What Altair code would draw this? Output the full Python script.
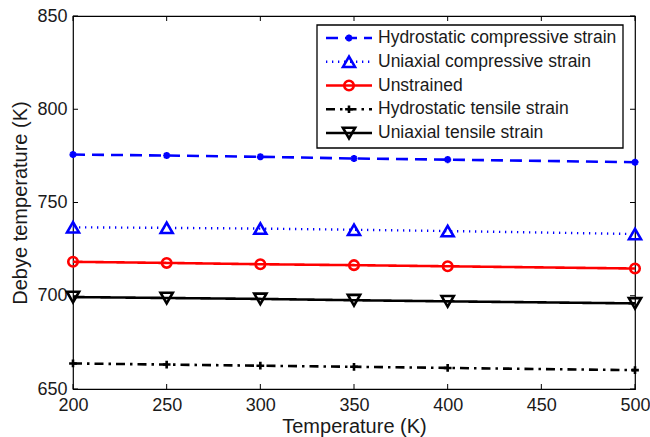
import altair as alt
import pandas as pd

# ---------------- data ----------------
temps = [200, 250, 300, 350, 400, 500]
series_names = [
    "Hydrostatic compressive strain",
    "Uniaxial compressive strain",
    "Unstrained",
    "Hydrostatic tensile strain",
    "Uniaxial tensile strain",
]
hydro_comp = [775.7, 775.2, 774.5, 773.6, 773.0, 771.6]
uni_comp = [736.7, 736.4, 736.0, 735.4, 734.7, 733.1]
unstrained = [718.2, 717.6, 716.9, 716.4, 715.8, 714.6]
hydro_tens = [663.7, 663.1, 662.5, 661.9, 661.3, 660.1]
uni_tens = [699.3, 698.8, 698.3, 697.6, 697.0, 695.9]
x_ticks = [200, 250, 300, 350, 400, 450, 500]
y_ticks = [650, 700, 750, 800, 850]

all_values = [hydro_comp, uni_comp, unstrained, hydro_tens, uni_tens]
rows = []
for name, vals in zip(series_names, all_values):
    for t, v in zip(temps, vals):
        rows.append({"series": name, "temp": t, "value": v})
df = pd.DataFrame(rows)
leg_df = pd.DataFrame({"series": series_names})

# ---------------- styles ----------------
FONT = "Liberation Sans, Arial, Helvetica, sans-serif"
W, H = 562, 373
ASTERISK = "M-1,0L1,0M0,-1L0,1M-0.7,-0.7L0.7,0.7M-0.7,0.7L0.7,-0.7"
PLUS = "M-1,0L1,0M0,-1L0,1"
styles = [
    dict(color="#0000ff", dash=[12, 7], shape=ASTERISK, size=50, sw=2.2, lw=2.6),
    dict(color="#0000ff", dash=[1.3, 4.7], shape="triangle-up", size=144, sw=2.6, lw=2.4),
    dict(color="#ff0000", dash=[1, 0], shape="circle", size=90, sw=2.6, lw=2.6),
    dict(color="#000000", dash=[9, 5, 2.5, 5], shape=PLUS, size=60, sw=2.6, lw=2.6),
    dict(color="#000000", dash=[1, 0], shape="triangle-down", size=150, sw=2.6, lw=2.6),
]

xs = alt.Scale(domain=[200, 500], nice=False, zero=False)
ys = alt.Scale(domain=[650, 850], nice=False, zero=False)
x_axis = alt.Axis(title="Temperature (K)", values=x_ticks, format="d",
                  labelFlush=False, labelOverlap=False, labelPadding=7, titlePadding=2)
y_axis = alt.Axis(title="Debye temperature (K)", values=y_ticks, format="d",
                  labelFlush=False, labelOverlap=False, labelPadding=6, titlePadding=6)


def X():
    return alt.X("temp:Q", scale=xs, axis=x_axis)


def Y():
    return alt.Y("value:Q", scale=ys, axis=y_axis)


main_layers = []
for name, st in zip(series_names, styles):
    sub = alt.Chart(df).transform_filter(alt.datum.series == name)
    main_layers.append(
        sub.mark_line(color=st["color"], strokeWidth=st["lw"], strokeDash=st["dash"]).encode(x=X(), y=Y())
    )
    main_layers.append(
        sub.mark_point(shape=st["shape"], size=st["size"], color=st["color"], filled=False,
                       strokeWidth=st["sw"], opacity=1).encode(x=X(), y=Y())
    )

# inward ticks on all four sides
xt = pd.DataFrame({"temp": x_ticks})
yt = pd.DataFrame({"value": y_ticks})
main_layers += [
    alt.Chart(xt).mark_rule(color="black", strokeWidth=1).encode(x=X(), y=alt.value(H), y2=alt.value(H - 5)),
    alt.Chart(xt).mark_rule(color="black", strokeWidth=1).encode(x=X(), y=alt.value(0), y2=alt.value(5)),
    alt.Chart(yt).mark_rule(color="black", strokeWidth=1).encode(y=Y(), x=alt.value(0), x2=alt.value(5)),
    alt.Chart(yt).mark_rule(color="black", strokeWidth=1).encode(y=Y(), x=alt.value(W), x2=alt.value(W - 5)),
]

# ---------------- legend ----------------
LY = alt.Y("series:N", scale=alt.Scale(type="point", domain=series_names, range=[22, 117], padding=0), axis=None)
legend_layers = [
    alt.Chart(leg_df.head(1)).mark_rect(fill="white", stroke="black", strokeWidth=1.3).encode(
        x=alt.value(244), x2=alt.value(550), y=alt.value(9), y2=alt.value(132))
]
for name, st in zip(series_names, styles):
    sub = alt.Chart(leg_df).transform_filter(alt.datum.series == name)
    legend_layers.append(
        sub.mark_rule(color=st["color"], strokeWidth=st["lw"], strokeDash=st["dash"]).encode(
            x=alt.value(253), x2=alt.value(299), y=LY)
    )
    legend_layers.append(
        sub.mark_point(shape=st["shape"], size=st["size"], color=st["color"], filled=False,
                       strokeWidth=st["sw"], opacity=1).encode(x=alt.value(276), y=LY)
    )
legend_layers.append(
    alt.Chart(leg_df).mark_text(align="left", baseline="middle", fontSize=17.5, font=FONT, color="#1a1a1a").encode(
        x=alt.value(305), y=LY, text="series:N")
)

chart = (
    alt.layer(alt.layer(*main_layers), alt.layer(*legend_layers))
    .resolve_scale(y="independent")
    .properties(width=W, height=H, autosize=alt.AutoSizeParams(type="none"),
                padding={"left": 73, "top": 16, "right": 15, "bottom": 48}, background="white")
    .configure_view(stroke="black", strokeWidth=1.2)
    .configure_axis(grid=False, ticks=False, domain=False, labelFont=FONT, labelFontSize=18,
                    labelColor="#1a1a1a", titleFont=FONT, titleFontSize=20, titleFontWeight="normal",
                    titleColor="#1a1a1a")
)

chart.save("out.html", embed_options={"renderer": "svg", "actions": False})
